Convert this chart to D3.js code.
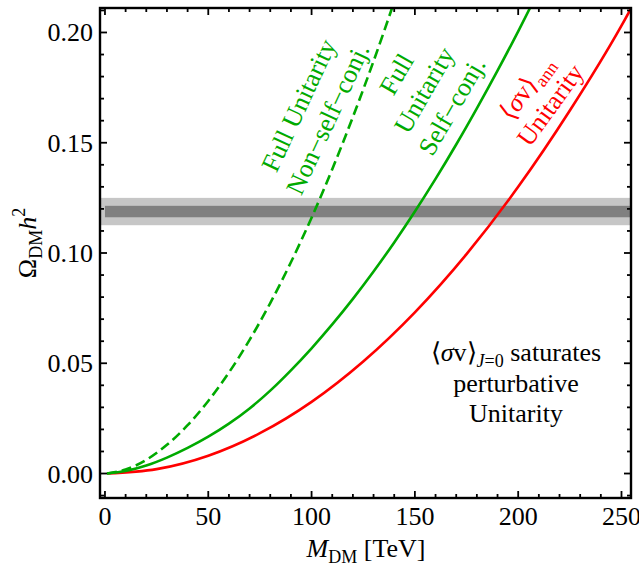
<!DOCTYPE html>
<html><head><meta charset="utf-8">
<script src="https://cdn.jsdelivr.net/npm/d3@7"></script>
</head><body style="margin:0">
<svg id="s" width="639" height="566"></svg>
<script>
// ---- data ----
const massRed      = [1, 25, 50, 75, 100, 125, 150, 175, 200, 225, 250, 257];
const omegaRed     = [0, 0.0020, 0.0081, 0.0183, 0.0325, 0.0508, 0.0731, 0.0995, 0.1300, 0.1646, 0.2031, 0.2150];
const massSelf     = [1, 10, 20, 30, 40, 50, 60, 70, 80, 90, 100, 110, 120, 130, 140, 150, 160, 170, 180, 190, 200, 210];
const omegaSelf    = [0, 0.0011, 0.0036, 0.0072, 0.0116, 0.0167, 0.0226, 0.0295, 0.0376, 0.0468, 0.0568, 0.0676,
                      0.0792, 0.0916, 0.1048, 0.1188, 0.1336, 0.1492, 0.1656, 0.1827, 0.2005, 0.2192];
const massNonSelf  = [1, 10, 20, 30, 40, 50, 60, 70, 80, 90, 100, 110, 120, 130, 140, 150];
const omegaNonSelf = [0, 0.0018, 0.0062, 0.0130, 0.0219, 0.0329, 0.0458, 0.0606, 0.0773, 0.0958, 0.1160,
                      0.1380, 0.1617, 0.1870, 0.2140, 0.2426];
const bandCentral = 0.1188, bandInner = 0.0026, bandOuter = 0.0062;
const xMajorTicks = [0, 50, 100, 150, 200, 250];
const yMajorTicks = [0, 0.05, 0.10, 0.15, 0.20];
const xMinorTicks = d3.range(0, 251, 10);
const yMinorTicks = d3.range(-1, 22).map(d => d / 100);

const fontName = "Times New Roman";
const GREEN = "#00aa00", RED = "#ff0000";
const svg = d3.select("#s");
const L = 100, R = 631, T = 8, B = 498;
const x = d3.scaleLinear().domain([-2.4, 254.6]).range([L, R]);
const y = d3.scaleLinear().domain([-0.0111, 0.2111]).range([B, T]);

svg.append("defs").append("clipPath").attr("id", "clip")
  .append("rect").attr("x", L).attr("y", T).attr("width", R - L).attr("height", B - T);

// band
svg.append("rect").attr("x", L).attr("width", R - L)
  .attr("y", y(bandCentral + bandOuter)).attr("height", y(bandCentral - bandOuter) - y(bandCentral + bandOuter))
  .attr("fill", "#c6c6c6");
svg.append("rect").attr("x", x(0)).attr("width", R - x(0))
  .attr("y", y(bandCentral + bandInner)).attr("height", y(bandCentral - bandInner) - y(bandCentral + bandInner))
  .attr("fill", "#808080");

// curves
const line = d3.line().x(d => x(d[0])).y(d => y(d[1])).curve(d3.curveMonotoneX);
const curves = svg.append("g").attr("clip-path", "url(#clip)");
curves.append("path").datum(d3.zip(massRed, omegaRed)).attr("d", line)
  .attr("fill", "none").attr("stroke", RED).attr("stroke-width", 2.6);
curves.append("path").datum(d3.zip(massSelf, omegaSelf)).attr("d", line)
  .attr("fill", "none").attr("stroke", GREEN).attr("stroke-width", 2.6);
curves.append("path").datum(d3.zip(massNonSelf, omegaNonSelf)).attr("d", line)
  .attr("fill", "none").attr("stroke", GREEN).attr("stroke-width", 2.6)
  .attr("stroke-dasharray", "10,5");

// frame + ticks
const fg = svg.append("g").attr("stroke", "#000");
function ticksX(vals, len, ypos, dir) {
  fg.selectAll(null).data(vals).enter().append("line")
    .attr("x1", d => x(d)).attr("x2", d => x(d))
    .attr("y1", ypos).attr("y2", ypos + dir * len).attr("stroke-width", 1.8);
}
function ticksY(vals, len, xpos, dir) {
  fg.selectAll(null).data(vals).enter().append("line")
    .attr("y1", d => y(d)).attr("y2", d => y(d))
    .attr("x1", xpos).attr("x2", xpos + dir * len).attr("stroke-width", 1.8);
}
const minorX = xMinorTicks.filter(d => !xMajorTicks.includes(d));
const minorY = yMinorTicks.filter(d => !yMajorTicks.some(m => Math.abs(m - d) < 1e-9));
ticksX(xMajorTicks, 7, B, -1); ticksX(minorX, 4, B, -1);
ticksX(xMajorTicks, 7, T, 1);  ticksX(minorX, 4, T, 1);
ticksY(yMajorTicks, 7, L, 1);  ticksY(minorY, 4, L, 1);
ticksY(yMajorTicks, 7, R, -1); ticksY(minorY, 4, R, -1);
svg.append("rect").attr("x", L).attr("y", T).attr("width", R - L).attr("height", B - T)
  .attr("fill", "none").attr("stroke", "#000").attr("stroke-width", 2.4);

function txt(sel) { return sel.attr("font-size", 26).style("font-family", `"${fontName}"`); }

// tick labels
txt(svg.selectAll(null).data(xMajorTicks).enter().append("text"))
  .attr("x", d => x(d)).attr("y", 525).attr("text-anchor", "middle")
  .text(d => d3.format("d")(d));
txt(svg.selectAll(null).data(yMajorTicks).enter().append("text"))
  .attr("x", 93).attr("y", d => y(d) + 9).attr("text-anchor", "end")
  .text(d => d3.format(".2f")(d));

// axis labels
const yl = txt(svg.append("text")).attr("transform", "translate(36,243) rotate(-90)")
  .attr("text-anchor", "middle");
yl.append("tspan").text("Ω");
yl.append("tspan").attr("font-size", 18).attr("dy", 6).text("DM");
yl.append("tspan").style("font-style", "italic").attr("dy", -6).text("h");
yl.append("tspan").attr("font-size", 18).attr("dy", -11).text("2");

const xl = txt(svg.append("text")).attr("x", 366).attr("y", 557)
  .attr("text-anchor", "middle");
xl.append("tspan").style("font-style", "italic").text("M");
xl.append("tspan").attr("font-size", 18).attr("dy", 6).text("DM");
xl.append("tspan").attr("dy", -6).text(" [TeV]");

// rotated annotations
function rotLabel(cx, cy, ang, color, lines, spacing) {
  const g = svg.append("g").attr("transform", `translate(${cx},${cy}) rotate(${ang})`);
  lines.forEach((ln, i) => {
    const t = txt(g.append("text")).attr("x", 0)
      .attr("y", (i - (lines.length - 1) / 2) * spacing + 9)
      .attr("text-anchor", "middle").attr("fill", color);
    ln(t);
  });
}
rotLabel(313, 112, -65, GREEN, [
  t => t.text("Full Unitarity"),
  t => t.text("Non−self−conj.")
], 32);
rotLabel(424, 90, -60, GREEN, [
  t => t.text("Full"),
  t => t.text("Unitarity"),
  t => t.text("Self−conj.")
], 32);
rotLabel(538, 96, -54, RED, [
  t => { t.append("tspan").text("⟨"); t.append("tspan").style("font-style", "italic").text("σ");
         t.append("tspan").text("v⟩"); t.append("tspan").attr("font-size", 18).attr("dy", 6).text("ann"); },
  t => t.text("Unitarity")
], 30);

// bottom-right annotation
const a1 = txt(svg.append("text")).attr("x", 516).attr("y", 361).attr("text-anchor", "middle");
a1.append("tspan").text("⟨");
a1.append("tspan").style("font-style", "italic").text("σ");
a1.append("tspan").text("v⟩");
a1.append("tspan").attr("font-size", 18).attr("dy", 6).style("font-style", "italic").text("J");
a1.append("tspan").attr("font-size", 18).text("=0");
a1.append("tspan").attr("dy", -6).text(" saturates");
txt(svg.append("text")).attr("x", 516).attr("y", 392).attr("text-anchor", "middle").text("perturbative");
txt(svg.append("text")).attr("x", 516).attr("y", 422).attr("text-anchor", "middle").text("Unitarity");
</script>
</body></html>
